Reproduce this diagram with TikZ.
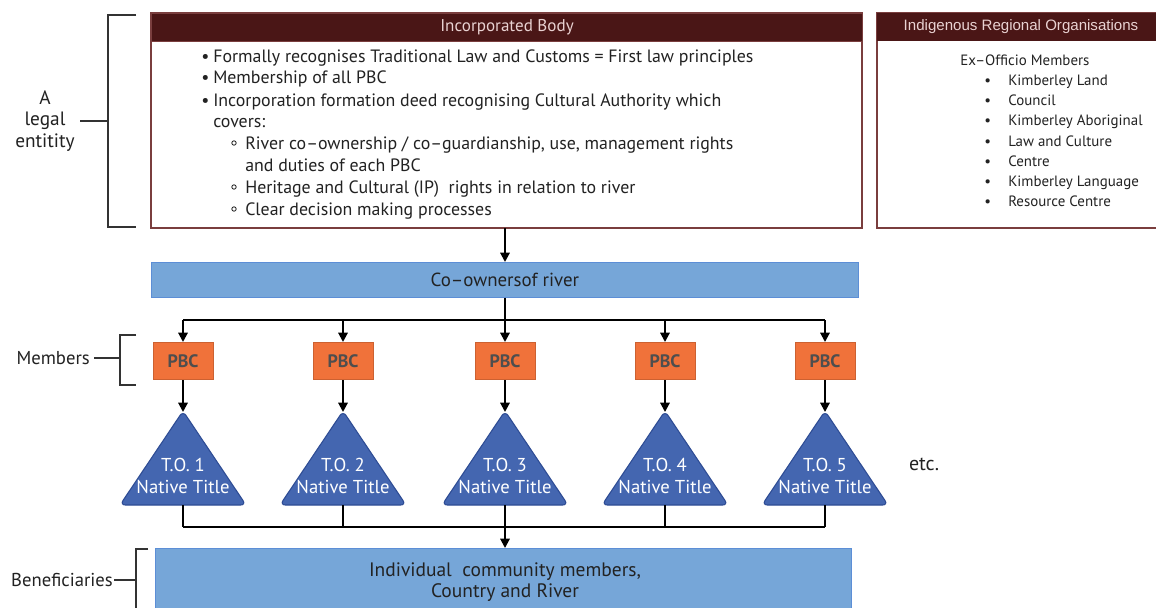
\documentclass[tikz,border=0pt]{standalone}
\usepackage{fontspec}
\setmainfont{PT Sans}
\newfontfamily\arialf{Liberation Sans}
\usetikzlibrary{arrows.meta}
\definecolor{maroonh}{HTML}{4A1616}
\definecolor{maroonb}{HTML}{7A3E3E}
\definecolor{headtxt}{HTML}{E9D2D2}
\definecolor{barblue}{HTML}{76A6D8}
\definecolor{barbord}{HTML}{5C8ED6}
\definecolor{pbcor}{HTML}{F0723A}
\definecolor{trif}{HTML}{4466B0}
\definecolor{trib}{HTML}{2E4C94}
\definecolor{ink}{HTML}{222222}
\definecolor{brk}{HTML}{333333}
\begin{document}
\begin{tikzpicture}[x=0.75pt,y=-0.75pt,
  txt/.style={anchor=base west,inner sep=0pt,font=\fontsize{13.4}{15}\selectfont,text=ink},
  itxt/.style={anchor=base west,inner sep=0pt,font=\fontsize{11.2}{13}\selectfont,text=ink},
  hbox/.style={draw=maroonb,line width=1.5pt},
  hhead/.style={fill=maroonh,draw=maroonb,line width=1pt},
  bar/.style={fill=barblue,draw=barbord,line width=0.8pt},
  pbcbox/.style={fill=pbcor,draw=pbcor!85!black,line width=0.5pt,minimum width=45pt,minimum height=28pt,inner sep=0pt,font=\fontsize{13.5}{15}\selectfont\bfseries,text=ink!80},
  tribox/.style={fill=trif,draw=trib,line width=0.8pt,rounded corners=4pt},
  tritxt/.style={align=center,text=white,font=\fontsize{14}{17}\selectfont},
  conn/.style={draw=black,line width=1.5pt},
  arr/.style={conn,-{Triangle[length=7pt,width=7pt]}},
  brack/.style={draw=brk,line width=1.2pt},
  lab/.style={font=\fontsize{14}{16}\selectfont,text=ink,inner sep=0pt,align=center}
]
\useasboundingbox (0,0) rectangle (1156,607);
\fill[white] (0,0) rectangle (1156,607);

% Incorporated body
\draw[hbox] (151,13) rectangle (862,228);
\node[hhead,minimum width=533pt,minimum height=21pt,inner sep=0pt,anchor=north west] (ibhead) at (151,13) {};
\node[text=headtxt,font=\fontsize{12.8}{14}\selectfont] at (ibhead.center) {Incorporated Body};
\coordinate (ibbot) at (505,228);

\foreach \y/\t in {62/{Formally recognises Traditional Law and Customs = First law principles},
                   83/{Membership of all PBC},
                   106/{Incorporation formation deed recognising Cultural Authority which}}{
  \node[txt] at (201,\y) {•};
  \node[txt] at (213,\y) {\t};
}
\node[txt] at (213,127) {covers:};
\foreach \y in {143,187,209}{\draw[ink,line width=0.6pt] (234,\y) circle (2.2);}
\node[txt] at (245,149) {River co–ownership / co–guardianship, use, management rights};
\node[txt] at (245,171) {and duties of each PBC};
\node[txt] at (245,193) {Heritage and Cultural (IP)\ \ rights in relation to river};
\node[txt] at (245,215) {Clear decision making processes};

% Indigenous regional organisations
\draw[hbox] (877,13) rectangle (1162,228);
\fill[maroonh] (877,13) rectangle (1162,41);
\node[text=headtxt,font=\arialf\fontsize{11.3}{13}\selectfont] at (1021,27) {Indigenous Regional Organisations};
\node[itxt] at (960,65) {Ex–Officio Members};
\foreach \y/\t in {85/{Kimberley Land},105/{Council},125/{Kimberley Aboriginal},146/{Law and Culture},166/{Centre},186/{Kimberley Language},206/{Resource Centre}}{
  \node[itxt] at (984,\y) {•};
  \node[itxt] at (1008,\y) {\t};
}

% legal entity bracket
\draw[brack] (136,15) -- (108,15) -- (108,227) -- (136,227);
\node[lab,font=\fontsize{14.5}{16.3}\selectfont] (legal) at (45,121) {A\\legal\\entitity};
\draw[brack] (80,121) -- (108,121);

% co-owners bar
\node[bar,minimum width=530pt,minimum height=26pt,inner sep=0pt,anchor=north west] (coown) at (151,262) {};
\node[font=\fontsize{14.2}{15}\selectfont,text=ink] at (coown.center) {Co–ownersof river};
\draw[arr] (ibbot) -- (ibbot |- coown.north);

% PBCs and triangles
\coordinate (split) at (505,320);
\draw[conn] (split |- coown.south) -- (split);
\draw[conn] (183,320) -- (825,320);
\foreach \i/\x in {1/183,2/343,3/505,4/665,5/825}{
  \node[pbcbox] (pbc\i) at (\x,361) {PBC};
  \coordinate (top\i) at (\x,320);
  \draw[arr] (top\i) -- (pbc\i.north);
  \draw[tribox] (\x,411) -- (\x+63,505) -- (\x-63,505) -- cycle;
  \coordinate (apex\i) at (\x,412);
  \coordinate (tb\i) at (\x,505);
  \node[tritxt] (to\i) at (\x,476) {T.O. \i\\Native Title};
  \draw[arr] (pbc\i.south) -- (apex\i);
  \coordinate (jn\i) at (\x,527);
  \draw[conn] (tb\i) -- (jn\i);
}
\draw[conn] (jn1) -- (jn5);
\node[lab,font=\fontsize{15}{16}\selectfont] (etc) at (924,464) {etc.};

% members bracket
\draw[brack] (136,335) -- (120,335) -- (120,385) -- (136,385);
\node[lab,anchor=east] (members) at (90,358) {Members};
\draw[brack] (94,358) -- (120,358);

% beneficiaries
\node[bar,minimum width=522pt,minimum height=52pt,inner sep=0pt,anchor=north west] (benef) at (155,548) {};
\node[lab,font=\fontsize{14.6}{15.5}\selectfont] at (505,582) {Individual\ \ community members,\\Country and River};
\draw[arr] (jn3) -- (jn3 |- benef.north);
\draw[brack] (148,549) -- (136,549) -- (136,612);
\node[lab,anchor=east] (benlab) at (113,580) {Beneficiaries};
\draw[brack] (114,580) -- (136,580);
\end{tikzpicture}
\end{document}
